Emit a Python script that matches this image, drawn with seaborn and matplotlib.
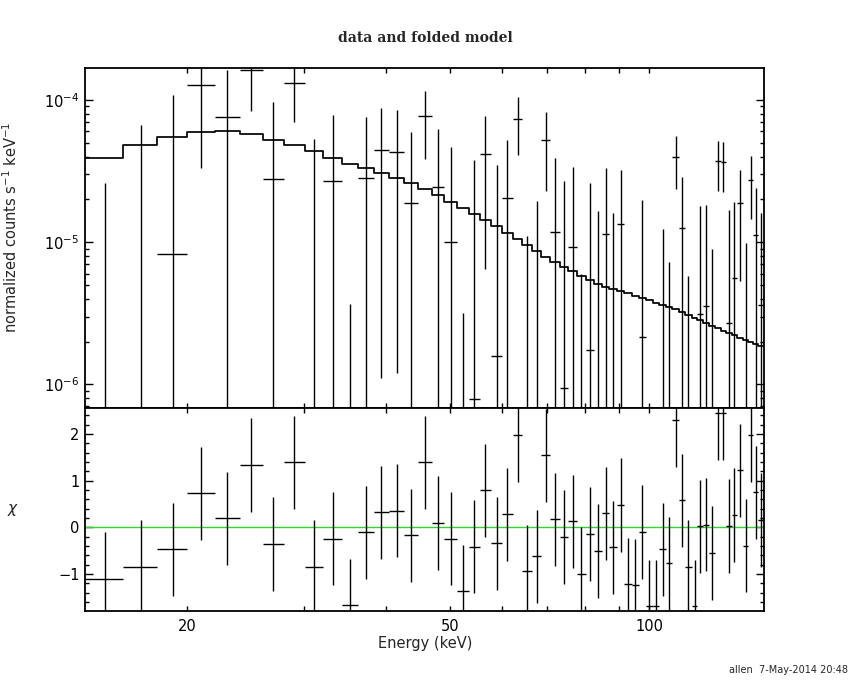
import numpy as np
import pandas as pd
import seaborn as sns
import matplotlib
matplotlib.use('Agg')
import matplotlib.pyplot as plt
from matplotlib.ticker import FixedLocator, NullFormatter, MultipleLocator, LogLocator, FuncFormatter

# energy bin edges (keV)
bin_edges = [14.0, 16.0, 18.0, 20.0, 22.0, 24.0, 26.0, 28.0, 30.1, 32.1,
             34.3, 36.3, 38.3, 40.4, 42.6, 44.7, 46.9, 49.0, 51.2, 53.4,
             55.4, 57.7, 59.9, 62.2, 64.3, 66.5, 68.7, 70.9, 73.3, 75.5,
             77.8, 80.2, 82.5, 84.8, 87.1, 89.4, 91.8, 94.2, 96.5, 98.9,
             101.3, 103.7, 106.0, 108.5, 111.0, 113.5, 116.0, 118.4, 120.9, 123.4,
             126.0, 128.4, 130.9, 133.4, 135.9, 138.7, 141.3, 143.6, 146.4, 149.3]

# folded model (normalized counts s^-1 keV^-1)
model_rate = [3.93e-5, 4.83e-5, 5.5e-5, 5.98e-5, 6.08e-5, 5.8e-5, 5.23e-5, 4.8e-5, 4.4e-5, 3.93e-5,
              3.56e-5, 3.31e-5, 3.07e-5, 2.83e-5, 2.59e-5, 2.36e-5, 2.15e-5, 1.93e-5, 1.74e-5, 1.58e-5,
              1.43e-5, 1.30e-5, 1.16e-5, 1.05e-5, 9.5e-6, 8.65e-6, 7.88e-6, 7.26e-6, 6.66e-6, 6.24e-6,
              5.82e-6, 5.45e-6, 5.1e-6, 4.84e-6, 4.69e-6, 4.51e-6, 4.37e-6, 4.21e-6, 4.05e-6, 3.92e-6,
              3.76e-6, 3.62e-6, 3.5e-6, 3.38e-6, 3.25e-6, 3.08e-6, 2.94e-6, 2.83e-6, 2.69e-6, 2.59e-6,
              2.49e-6, 2.39e-6, 2.31e-6, 2.22e-6, 2.13e-6, 2.05e-6, 2.0e-6, 1.93e-6, 1.86e-6]

# data points and 1-sigma errors
data_rate = [-8.98e-5, -4.83e-5, 8.2e-6, 1.27e-4, 7.56e-5, 1.63e-4, 2.78e-5, 1.31e-4, -4.3e-6, 2.68e-5,
             -4.4e-5, 2.81e-5, 4.43e-5, 4.28e-5, 1.88e-5, 7.68e-5, 2.43e-5, 1.01e-5, -3.52e-5, 7.85e-7,
             4.15e-5, 1.58e-6, 2.05e-5, 7.31e-5, -1.5e-5, -9.1e-6, 5.24e-5, 1.17e-5, 9.4e-7, 9.27e-6,
             -1.8e-5, 1.74e-6, -6.9e-6, 1.14e-5, -3.8e-6, 1.34e-5, -1.7e-5, -1.75e-5, 2.16e-6, -2.48e-5,
             -2.5e-5, -4.2e-6, -9.2e-6, 3.96e-5, 1.25e-5, -1.12e-5, -2.41e-5, 3.1e-6, 3.55e-6, -5.2e-6,
             3.73e-5, 3.66e-5, 2.7e-6, 5.58e-6, 1.88e-5, -2.98e-6, 2.74e-5, 1.12e-5, 3.62e-6]
data_err = [1.16e-4, 1.15e-4, 1.01e-4, 9.4e-5, 8.7e-5, 8.0e-5, 6.9e-5, 6.1e-5, 5.75e-5, 5.17e-5,
            4.77e-5, 4.78e-5, 4.32e-5, 4.16e-5, 4.08e-5, 3.85e-5, 3.82e-5, 3.66e-5, 3.84e-5, 3.71e-5,
            3.5e-5, 3.33e-5, 3.19e-5, 3.22e-5, 2.6e-5, 2.86e-5, 2.95e-5, 2.76e-5, 2.6e-5, 2.47e-5,
            2.4e-5, 2.43e-5, 2.35e-5, 2.2e-5, 1.98e-5, 1.88e-5, 1.76e-5, 1.75e-5, 1.77e-5, 1.7e-5,
            1.7e-5, 1.66e-5, 1.65e-5, 1.58e-5, 1.64e-5, 1.7e-5, 1.6e-5, 1.49e-5, 1.47e-5, 1.42e-5,
            1.43e-5, 1.41e-5, 1.4e-5, 1.37e-5, 1.35e-5, 1.29e-5, 1.28e-5, 1.3e-5, 1.24e-5]

# residuals (data - model) / error
chi = [-1.11, -0.84, -0.47, 0.73, 0.19, 1.33, -0.36, 1.39, -0.84, -0.24,
       -1.67, -0.11, 0.32, 0.36, -0.17, 1.39, 0.09, -0.24, -1.37, -0.41,
       0.79, -0.34, 0.28, 1.97, -0.94, -0.62, 1.54, 0.17, -0.21, 0.13,
       -0.99, -0.14, -0.51, 0.30, -0.43, 0.48, -1.22, -1.24, -0.10, -1.69,
       -1.69, -0.47, -0.77, 2.29, 0.58, -0.84, -1.69, 0.02, 0.06, -0.55,
       2.45, 2.45, 0.03, 0.26, 1.22, -0.39, 1.98, 0.75, 0.16]

edges = np.array(bin_edges)
df = pd.DataFrame({
    'energy': 0.5 * (edges[:-1] + edges[1:]),
    'halfwidth': 0.5 * (edges[1:] - edges[:-1]),
    'rate': data_rate,
    'err': data_err,
    'model': model_rate,
    'chi': chi,
})
step_df = pd.DataFrame({'energy': edges, 'model': model_rate + [model_rate[-1]]})

sns.set_style('ticks')
plt.rcParams['font.family'] = ['DejaVu Sans']
plt.rcParams['mathtext.fontset'] = 'dejavusans'

fig = plt.figure(figsize=(8.5, 6.8), dpi=100)
ax1 = fig.add_axes([0.1, 0.4004, 0.7988, 0.4992])
ax2 = fig.add_axes([0.1, 0.1015, 0.7988, 0.2989], sharex=ax1)

# top panel: data + folded model
ax1.set_xscale('log')
ax1.set_yscale('log', nonpositive='clip')
sns.lineplot(data=step_df, x='energy', y='model', ax=ax1, color='black', lw=1.25,
             drawstyle='steps-post', estimator=None, sort=False)
ax1.errorbar(df['energy'], df['rate'], xerr=df['halfwidth'], yerr=df['err'],
             fmt='none', ecolor='black', elinewidth=1.0, capsize=0)
ax1.set_ylim(6.85e-7, 1.67e-4)

# bottom panel: residuals
ax2.axhline(0, color='#2ed62e', lw=1.0, zorder=1)
ax2.errorbar(df['energy'], df['chi'], xerr=df['halfwidth'], yerr=1.0,
             fmt='none', ecolor='black', elinewidth=1.0, capsize=0, zorder=2)
ax2.set_ylim(-1.79, 2.56)
ax2.set_xlim(bin_edges[0], bin_edges[-1])

for ax in (ax1, ax2):
    ax.set_xlabel('')
    ax.set_ylabel('')
    for sp in ax.spines.values():
        sp.set_linewidth(1.3)
        sp.set_color('black')
    ax.tick_params(which='both', direction='in', top=True, right=True,
                   colors='black', labelsize=10.5, width=1.0)
    ax.xaxis.set_major_locator(FixedLocator([20, 50, 100]))
    ax.xaxis.set_minor_locator(FixedLocator([30, 40, 60, 70, 80, 90]))
    ax.xaxis.set_minor_formatter(NullFormatter())
    ax.tick_params(axis='x', which='both', length=3.5)
    ax.tick_params(axis='y', which='major', length=6, pad=4)
    ax.tick_params(axis='y', which='minor', length=3)

ax1.yaxis.set_major_locator(LogLocator(base=10, numticks=10))
ax1.yaxis.set_minor_locator(LogLocator(base=10, subs=np.arange(2, 10), numticks=20))
ax1.yaxis.set_minor_formatter(NullFormatter())
ax1.yaxis.set_major_formatter(FuncFormatter(lambda v, p: r'$10^{%d}$' % round(np.log10(v))))
ax1.tick_params(axis='x', labelbottom=False)

ax2.yaxis.set_major_locator(MultipleLocator(1))
ax2.yaxis.set_minor_locator(MultipleLocator(0.2))
ax2.xaxis.set_major_formatter(FuncFormatter(lambda v, p: '%d' % v))
ax2.tick_params(axis='x', pad=6)

fig.text(0.5, 0.944, 'data and folded model', ha='center', va='center',
         family='DejaVu Serif', fontsize=10, weight='bold')
fig.text(0.013, 0.665, r'normalized counts s$^{-1}$ keV$^{-1}$', rotation=90,
         ha='center', va='center', fontsize=10.5)
fig.text(0.015, 0.25, r'$\chi$', ha='center', va='center', fontsize=11)
fig.text(0.5, 0.054, 'Energy (keV)', ha='center', va='center', fontsize=10.5)
fig.text(0.998, 0.014, 'allen  7-May-2014 20:48', ha='right', va='center', fontsize=7)

fig.savefig('out.png', dpi=100)
